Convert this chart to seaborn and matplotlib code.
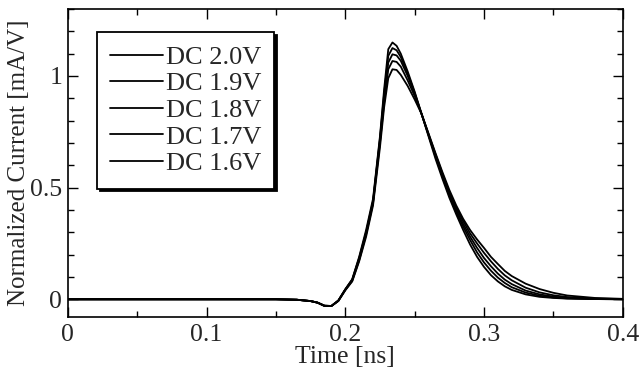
import numpy as np
import pandas as pd
import matplotlib
matplotlib.use('Agg')
import matplotlib.pyplot as plt
import seaborn as sns
from matplotlib.ticker import MultipleLocator

# Time axis [ns] shared by all curves
times = [0, 0.05, 0.1, 0.15, 0.165, 0.175, 0.18, 0.185, 0.19, 0.195,
         0.2, 0.205, 0.21, 0.215, 0.22, 0.225, 0.228, 0.231, 0.234, 0.237, 0.24,
         0.245, 0.25, 0.255, 0.26, 0.265, 0.27, 0.275, 0.28,
         0.285, 0.29, 0.295, 0.3, 0.305, 0.31, 0.315, 0.32,
         0.33, 0.34, 0.35, 0.36, 0.38, 0.4]

# Normalized current [mA/V]
dc20 = [0, 0, 0, 0, -0.002, -0.008, -0.015, -0.03, -0.03, -0.005,
        0.045, 0.09, 0.19, 0.31, 0.45, 0.73, 0.94, 1.12, 1.15, 1.135, 1.10,
        1.02, 0.93, 0.83, 0.73, 0.63, 0.54, 0.455, 0.38,
        0.31, 0.245, 0.19, 0.145, 0.108, 0.08, 0.058, 0.042,
        0.022, 0.011, 0.006, 0.003, 0.001, 0]
dc19 = [0, 0, 0, 0, -0.002, -0.008, -0.015, -0.03, -0.03, -0.006,
        0.044, 0.088, 0.185, 0.30, 0.44, 0.72, 0.92, 1.09, 1.125, 1.115, 1.085,
        1.01, 0.925, 0.83, 0.735, 0.64, 0.55, 0.465, 0.39,
        0.325, 0.265, 0.21, 0.165, 0.128, 0.097, 0.073, 0.054,
        0.03, 0.016, 0.008, 0.004, 0.001, 0]
dc18 = [0, 0, 0, 0, -0.002, -0.008, -0.015, -0.029, -0.03, -0.006,
        0.043, 0.086, 0.18, 0.295, 0.435, 0.71, 0.90, 1.06, 1.097, 1.092, 1.068,
        1.0, 0.92, 0.83, 0.737, 0.645, 0.555, 0.47, 0.40,
        0.337, 0.28, 0.23, 0.185, 0.148, 0.115, 0.088, 0.068,
        0.039, 0.022, 0.012, 0.006, 0.002, 0]
dc17 = [0, 0, 0, 0, -0.002, -0.008, -0.015, -0.029, -0.03, -0.007,
        0.042, 0.083, 0.175, 0.29, 0.43, 0.70, 0.88, 1.03, 1.067, 1.063, 1.042,
        0.98, 0.91, 0.83, 0.74, 0.65, 0.563, 0.48, 0.41,
        0.35, 0.295, 0.25, 0.208, 0.17, 0.136, 0.107, 0.085,
        0.052, 0.031, 0.018, 0.01, 0.003, 0.001]
dc16 = [0, 0, 0, 0, -0.002, -0.008, -0.015, -0.028, -0.03, -0.008,
        0.04, 0.08, 0.17, 0.28, 0.42, 0.68, 0.86, 0.99, 1.03, 1.027, 1.005,
        0.955, 0.895, 0.83, 0.743, 0.655, 0.57, 0.49, 0.42,
        0.36, 0.31, 0.268, 0.23, 0.19, 0.158, 0.127, 0.104,
        0.07, 0.046, 0.029, 0.017, 0.006, 0.002]

labels = ['DC 2.0V', 'DC 1.9V', 'DC 1.8V', 'DC 1.7V', 'DC 1.6V']
series = [dc20, dc19, dc18, dc17, dc16]

df = pd.concat([pd.DataFrame({'Time': times, 'Current': s, 'Bias': lab})
                for lab, s in zip(labels, series)], ignore_index=True)

sns.set_theme(style='ticks')
plt.rcParams['font.family'] = ['Liberation Serif', 'DejaVu Serif']

fig = plt.figure(figsize=(6.4, 3.74), dpi=100)
ax = fig.add_axes([0.106, 0.152, 0.867, 0.824])

sns.lineplot(data=df, x='Time', y='Current', hue='Bias', hue_order=labels,
             palette=['black'] * 5, estimator=None, sort=False,
             linewidth=1.3, ax=ax)

ax.set_xlim(0, 0.4)
ax.set_ylim(-0.08, 1.3)
ax.set_xticks([0, 0.1, 0.2, 0.3, 0.4])
ax.set_xticklabels(['0', '0.1', '0.2', '0.3', '0.4'])
ax.set_yticks([0, 0.5, 1])
ax.set_yticklabels(['0', '0.5', '1'])
ax.xaxis.set_minor_locator(MultipleLocator(0.05))
ax.yaxis.set_minor_locator(MultipleLocator(0.1))
ax.tick_params(which='both', direction='in', top=True, right=True,
               labelsize=18.5, width=1.0, color='black', pad=5)
ax.tick_params(axis='y', which='both', pad=4)
ax.tick_params(which='major', length=7)
ax.tick_params(which='minor', length=4)
for sp in ax.spines.values():
    sp.set_linewidth(1.2)
    sp.set_color('black')

ax.set_xlabel('Time [ns]', fontsize=18.5, labelpad=0)
ax.set_ylabel('Normalized Current [mA/V]', fontsize=18, labelpad=0)

leg = ax.legend(loc='upper left', bbox_to_anchor=(0.053, 0.925), fontsize=19,
                frameon=True, fancybox=False, handlelength=2.0,
                handletextpad=0.1, labelspacing=0.12, borderpad=0.5,
                borderaxespad=0,
                shadow={'facecolor': 'black', 'edgecolor': 'black', 'alpha': 1})
leg.get_frame().set_edgecolor('black')
leg.get_frame().set_linewidth(1.3)
leg.get_frame().set_alpha(1)
for line in leg.get_lines():
    line.set_linewidth(1.3)

fig.savefig('out.png', dpi=100)
